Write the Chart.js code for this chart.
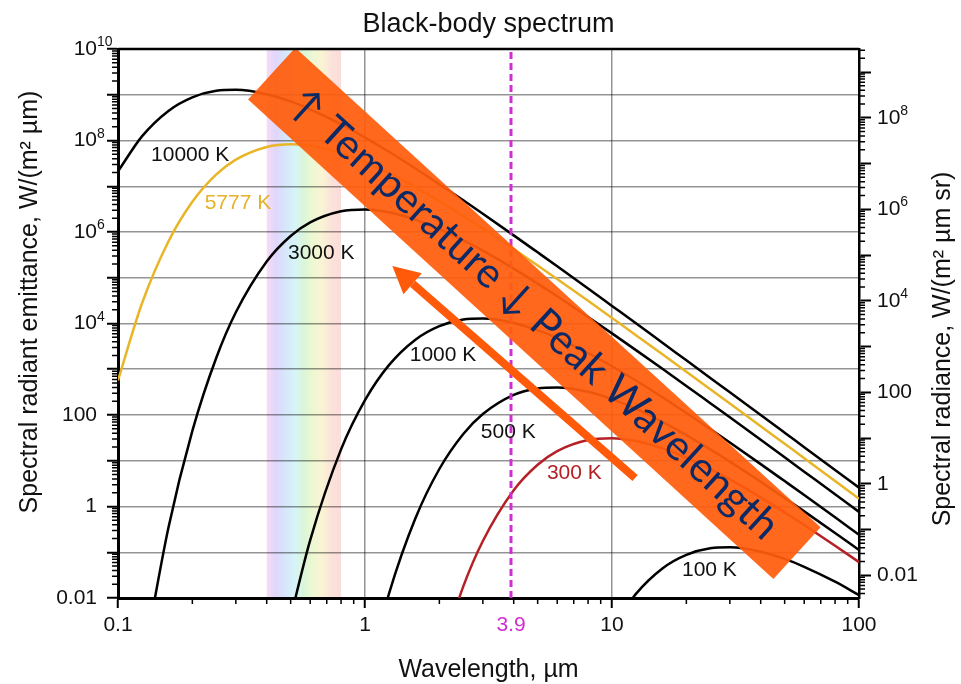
<!DOCTYPE html>
<html>
<head>
<meta charset="utf-8">
<title>Black-body spectrum</title>
<script src="https://cdn.jsdelivr.net/npm/chart.js@4.4.0/dist/chart.umd.min.js"></script>
<style>
  html, body { margin: 0; padding: 0; background: #fff; }
  #wrap { width: 961px; height: 684px; position: relative; }
</style>
</head>
<body>
<div id="wrap"><canvas id="bbChart"></canvas></div>
<script>
// Wavelength grid, µm
const wavelengths = [0.1, 0.125, 0.16, 0.2, 0.25, 0.3, 0.4, 0.5, 0.6, 0.8, 1, 1.25, 1.6, 2, 2.5, 3, 4, 5, 6, 8, 10, 12.5, 16, 20, 25, 30, 40, 50, 60, 80, 100];

// Spectral radiant emittance, W/(m² µm), per temperature (null = not drawn yet)
const m10000 = [2.11e7, 1.23e8, 4.44e8, 8.79e8, 1.22e9, 1.28e9, 1.03e9, 7.14e8, 4.81e8, 2.27e8, 1.16e8, 5.67e7, 2.45e7, 1.11e7, 4.93e6, 2.50e6, 8.44e5, 3.59e5, 1.78e5, 5.80e4, 2.42e4, 1.01e4, 3790, 1568, 647, 313, 99.8, 41.0, 19.8, 6.29, 2.58];
const m5777 = [571, 2.73e4, 6.20e5, 4.57e6, 1.81e7, 3.82e7, 7.24e7, 8.28e7, 7.70e7, 5.31e7, 3.38e7, 1.94e7, 9.53e6, 4.73e6, 2.24e6, 1.19e6, 4.23e5, 1.86e5, 9.35e4, 3.13e4, 1.32e4, 5560, 2119, 882, 366, 178, 56.9, 23.4, 11.4, 3.61, 1.48];
const m3000 = [null, 2.7e-4, 0.343, 45.0, 1786, 1.76e4, 2.27e5, 8.18e5, 1.63e6, 2.85e6, 3.12e6, 2.70e6, 1.87e6, 1.17e6, 6.60e5, 3.90e5, 1.58e5, 7.44e4, 3.93e4, 1.39e4, 6080, 2621, 1021, 432, 181, 88.8, 28.7, 11.9, 5.78, 1.85, 0.762];
const m1000 = [null, null, null, null, null, null, null, 0.0038, 0.185, 17.7, 211, 1230, 4438, 8789, 1.22e4, 1.28e4, 1.03e4, 7140, 4812, 2266, 1164, 567, 245, 111, 49.3, 25.0, 8.44, 3.59, 1.78, 0.580, 0.242];
const m500 = [null, null, null, null, null, null, null, null, null, null, 1.2e-4, 0.0123, 0.552, 6.60, 38.4, 105, 275, 380, 401, 322, 223, 136, 70.8, 36.4, 17.7, 9.57, 3.47, 1.54, 0.782, 0.264, 0.112];
const m300 = [null, null, null, null, null, null, null, null, null, null, null, null, null, 4.5e-4, 0.0179, 0.176, 2.27, 8.18, 16.3, 28.5, 31.2, 27.0, 18.7, 11.7, 6.60, 3.90, 1.58, 0.744, 0.393, 0.139, 0.0608];
const m100 = [null, null, null, null, null, null, null, null, null, null, null, null, null, null, null, null, null, null, null, null, 0.00211, 0.0123, 0.0444, 0.0879, 0.122, 0.128, 0.103, 0.0714, 0.0481, 0.0227, 0.0116];

// Axis ticks
const xTicks = [0.1, 1, 3.9, 10, 100];
const yDecades = [0.01, 0.1, 1, 10, 100, 1e3, 1e4, 1e5, 1e6, 1e7, 1e8, 1e9, 1e10];
const y2Decades = [0.01, 0.1, 1, 10, 100, 1e3, 1e4, 1e5, 1e6, 1e7, 1e8, 1e9];
const peakMark = 3.9;          // µm, dashed marker
const visibleBand = [0.4, 0.8]; // µm

// Curve labels (anchor in data units)
const curveLabels = [
  { text: "10000 K", x: 0.196, y: 4.8e7, color: "#111" },
  { text: "5777 K", x: 0.306, y: 4.3e6, color: "#e6b22a" },
  { text: "3000 K", x: 0.665, y: 3.5e5, color: "#111" },
  { text: "1000 K", x: 2.07, y: 2050, color: "#111" },
  { text: "500 K", x: 3.8, y: 42.5, color: "#111" },
  { text: "300 K", x: 7.04, y: 5.4, color: "#b52026" },
  { text: "100 K", x: 24.8, y: 0.041, color: "#111" },
];

// Banner and arrow anchors (data units)
const bannerEnds = [[0.419, 2.9e9], [56.1, 0.096]];
const arrowTail = [12.4, 4.2];
const arrowTip = [1.29, 1.8e5];

const FONT = '"Liberation Sans", Arial, sans-serif';
Chart.defaults.font.family = FONT;
Chart.defaults.color = "#111";

// tick label pieces: base text through Chart.js, exponent drawn raised
function expOf(v) {
  return Math.round(Math.log10(v));
}
function baseLabel(v) {
  const k = expOf(v);
  if (k % 2 !== 0) return "";
  if (k === -2) return "0.01";
  if (k === 0) return "1";
  if (k === 2) return "100";
  return "10";
}
function expLabel(v) {
  const k = expOf(v);
  return k % 2 === 0 && k > 2 ? String(k) : "";
}

function series(values) {
  return wavelengths
    .map((w, i) => ({ x: w, y: values[i] }))
    .filter((p) => p.y !== null);
}

function curve(label, values, color) {
  return {
    label: label,
    data: series(values),
    borderColor: color,
    borderWidth: 2.5,
    pointRadius: 0,
    cubicInterpolationMode: "monotone",
    fill: false,
  };
}

// White background + visible spectrum band
const bandPlugin = {
  id: "visibleBand",
  beforeDraw(chart) {
    const { ctx, chartArea, scales } = chart;
    ctx.save();
    ctx.fillStyle = "#fff";
    ctx.fillRect(0, 0, chart.width, chart.height);
    const x0 = scales.x.getPixelForValue(visibleBand[0]);
    const x1 = scales.x.getPixelForValue(visibleBand[1]);
    const g = ctx.createLinearGradient(x0, 0, x1, 0);
    const stops = ["#f6dcf6", "#e0d6fb", "#d6e6fb", "#d6f4f8", "#daf6d8", "#eef8d2", "#faf3d4", "#fbe2da", "#fbdcdc"];
    stops.forEach((c, i) => g.addColorStop(i / (stops.length - 1), c));
    ctx.fillStyle = g;
    ctx.fillRect(x0, chartArea.top, x1 - x0, chartArea.bottom - chartArea.top);
    ctx.restore();
  },
};

// Minor log ticks, exponents, top border and titles
const axesPlugin = {
  id: "axesExtras",
  afterDraw(chart) {
    const { ctx, chartArea, scales } = chart;
    ctx.save();
    ctx.strokeStyle = "#000";
    ctx.lineWidth = 1.5;
    const minors = (scale, fn) => {
      for (let e = -3; e <= 10; e++) {
        for (let m = 2; m <= 9; m++) {
          const v = m * Math.pow(10, e);
          if (v < scale.min || v > scale.max) continue;
          fn(scale.getPixelForValue(v));
        }
      }
    };
    ctx.beginPath();
    minors(scales.x, (px) => { ctx.moveTo(px, chartArea.bottom); ctx.lineTo(px, chartArea.bottom + 6); });
    minors(scales.y, (py) => { ctx.moveTo(chartArea.left - 6, py); ctx.lineTo(chartArea.left, py); });
    minors(scales.y2, (py) => { ctx.moveTo(chartArea.right, py); ctx.lineTo(chartArea.right + 6, py); });
    ctx.stroke();

    // top frame line
    ctx.lineWidth = 2.5;
    ctx.beginPath();
    ctx.moveTo(chartArea.left, chartArea.top);
    ctx.lineTo(chartArea.right, chartArea.top);
    ctx.stroke();

    // raised exponents for 10^k labels
    ctx.fillStyle = "#111";
    ctx.font = "21px " + FONT;
    const baseW = ctx.measureText("10").width;
    ctx.font = "14px " + FONT;
    ctx.textAlign = "left";
    ctx.textBaseline = "alphabetic";
    scales.y.ticks.forEach((t) => {
      const e = expLabel(t.value);
      if (e) ctx.fillText(e, chartArea.left - 11 - 10, scales.y.getPixelForValue(t.value) - 3);
    });
    scales.y2.ticks.forEach((t) => {
      const e = expLabel(t.value);
      if (e) ctx.fillText(e, chartArea.right + 12 + 6 + baseW, scales.y2.getPixelForValue(t.value) - 3);
    });

    const cx = (chartArea.left + chartArea.right) / 2;
    ctx.textAlign = "center";
    ctx.font = "27px " + FONT;
    ctx.fillText("Black-body spectrum", cx, 32);
    ctx.font = "25px " + FONT;
    ctx.fillText("Wavelength, µm", cx, 677);

    ctx.save();
    ctx.translate(37, 302);
    ctx.rotate(-Math.PI / 2);
    ctx.fillText("Spectral radiant emittance, W/(m² µm)", 0, 0);
    ctx.restore();

    ctx.save();
    ctx.translate(950, 349);
    ctx.rotate(-Math.PI / 2);
    ctx.fillText("Spectral radiance, W/(m² µm sr)", 0, 0);
    ctx.restore();
    ctx.restore();
  },
};

// Curve labels, banner and arrow
const notesPlugin = {
  id: "notes",
  afterDatasetsDraw(chart) {
    const { ctx, scales } = chart;
    const px = (p) => ({ x: scales.x.getPixelForValue(p[0]), y: scales.y.getPixelForValue(p[1]) });
    ctx.save();
    ctx.font = "21px " + FONT;
    ctx.textAlign = "center";
    ctx.textBaseline = "middle";
    curveLabels.forEach((l) => {
      ctx.fillStyle = l.color;
      ctx.fillText(l.text, scales.x.getPixelForValue(l.x), scales.y.getPixelForValue(l.y));
    });

    // arrow
    const t = px(arrowTail), h = px(arrowTip);
    const ang = Math.atan2(h.y - t.y, h.x - t.x);
    const headLen = 27, headW = 14;
    const bx = h.x - headLen * Math.cos(ang), by = h.y - headLen * Math.sin(ang);
    ctx.strokeStyle = "#ff5a0a";
    ctx.fillStyle = "#ff5a0a";
    ctx.lineWidth = 8;
    ctx.beginPath();
    ctx.moveTo(t.x, t.y);
    ctx.lineTo(bx, by);
    ctx.stroke();
    ctx.beginPath();
    ctx.moveTo(h.x, h.y);
    ctx.lineTo(bx + headW * Math.sin(ang), by - headW * Math.cos(ang));
    ctx.lineTo(bx - headW * Math.sin(ang), by + headW * Math.cos(ang));
    ctx.closePath();
    ctx.fill();

    // banner
    const a = px(bannerEnds[0]), b = px(bannerEnds[1]);
    const len = Math.hypot(b.x - a.x, b.y - a.y);
    const rot = Math.atan2(b.y - a.y, b.x - a.x);
    ctx.translate((a.x + b.x) / 2, (a.y + b.y) / 2);
    ctx.rotate(rot);
    ctx.fillStyle = "rgba(255, 92, 12, 0.93)";
    ctx.fillRect(-len / 2, -35, len, 70);
    const txt = "↑ Temperature ↓ Peak Wavelength";
    ctx.font = '40px "Lato", "DejaVu Sans", sans-serif';
    const size = 40 * 646 / ctx.measureText(txt).width;
    ctx.font = size.toFixed(1) + 'px "Lato", "DejaVu Sans", sans-serif';
    ctx.fillStyle = "#0c2a66";
    ctx.textAlign = "center";
    ctx.textBaseline = "middle";
    ctx.fillText(txt, 0, 1);
    ctx.restore();
  },
};

new Chart(document.getElementById("bbChart"), {
  type: "line",
  data: {
    datasets: [
      {
        label: "peak 3.9 µm",
        data: [{ x: peakMark, y: 0.01 }, { x: peakMark, y: 1e10 }],
        borderColor: "#d02fd0",
        borderWidth: 3,
        borderDash: [7, 4],
        pointRadius: 0,
      },
      curve("10000 K", m10000, "#000"),
      curve("5777 K", m5777, "#e9b526"),
      curve("3000 K", m3000, "#000"),
      curve("1000 K", m1000, "#000"),
      curve("500 K", m500, "#000"),
      curve("300 K", m300, "#b52026"),
      curve("100 K", m100, "#000"),
    ],
  },
  options: {
    responsive: true,
    maintainAspectRatio: false,
    animation: false,
    layout: { padding: { top: 49 } },
    plugins: { legend: { display: false }, tooltip: { enabled: false }, title: { display: false } },
    scales: {
      x: {
        type: "logarithmic",
        min: 0.1,
        max: 100,
        afterBuildTicks: (s) => { s.ticks = xTicks.map((v) => ({ value: v })); },
        afterFit: (s) => { s.height = 86; },
        border: { color: "#000", width: 3 },
        grid: {
          color: (c) => (c.tick && (c.tick.value === 1 || c.tick.value === 10) ? "rgba(0,0,0,0.42)" : "rgba(0,0,0,0)"),
          lineWidth: 1.5,
          tickLength: 10,
          tickWidth: 2,
          tickColor: (c) => (c.tick && c.tick.value === peakMark ? "rgba(0,0,0,0)" : "#000"),
        },
        ticks: {
          autoSkip: false,
          maxRotation: 0,
          padding: 5,
          font: { size: 21 },
          color: (c) => (c.tick && c.tick.value === peakMark ? "#d02fd0" : "#111"),
          callback: (v) => String(v),
        },
      },
      y: {
        type: "logarithmic",
        position: "left",
        min: 0.01,
        max: 1e10,
        afterBuildTicks: (s) => { s.ticks = yDecades.map((v) => ({ value: v })); },
        afterFit: (s) => { s.width = 118; },
        border: { color: "#000", width: 3 },
        grid: { color: "rgba(0,0,0,0.42)", lineWidth: 1.5, tickLength: 11, tickWidth: 2, tickColor: "#000" },
        ticks: { autoSkip: false, padding: 10, font: { size: 21 }, callback: (v) => baseLabel(v) },
      },
      y2: {
        type: "logarithmic",
        position: "right",
        min: 0.01 / Math.PI,
        max: 1e10 / Math.PI,
        afterBuildTicks: (s) => { s.ticks = y2Decades.map((v) => ({ value: v })); },
        afterFit: (s) => { s.width = 102; },
        border: { color: "#000", width: 2.5 },
        grid: { drawOnChartArea: false, tickLength: 12, tickWidth: 2, tickColor: "#000" },
        ticks: { autoSkip: false, padding: 6, font: { size: 21 }, callback: (v) => baseLabel(v) },
      },
    },
  },
  plugins: [bandPlugin, axesPlugin, notesPlugin],
});
</script>
</body>
</html>
